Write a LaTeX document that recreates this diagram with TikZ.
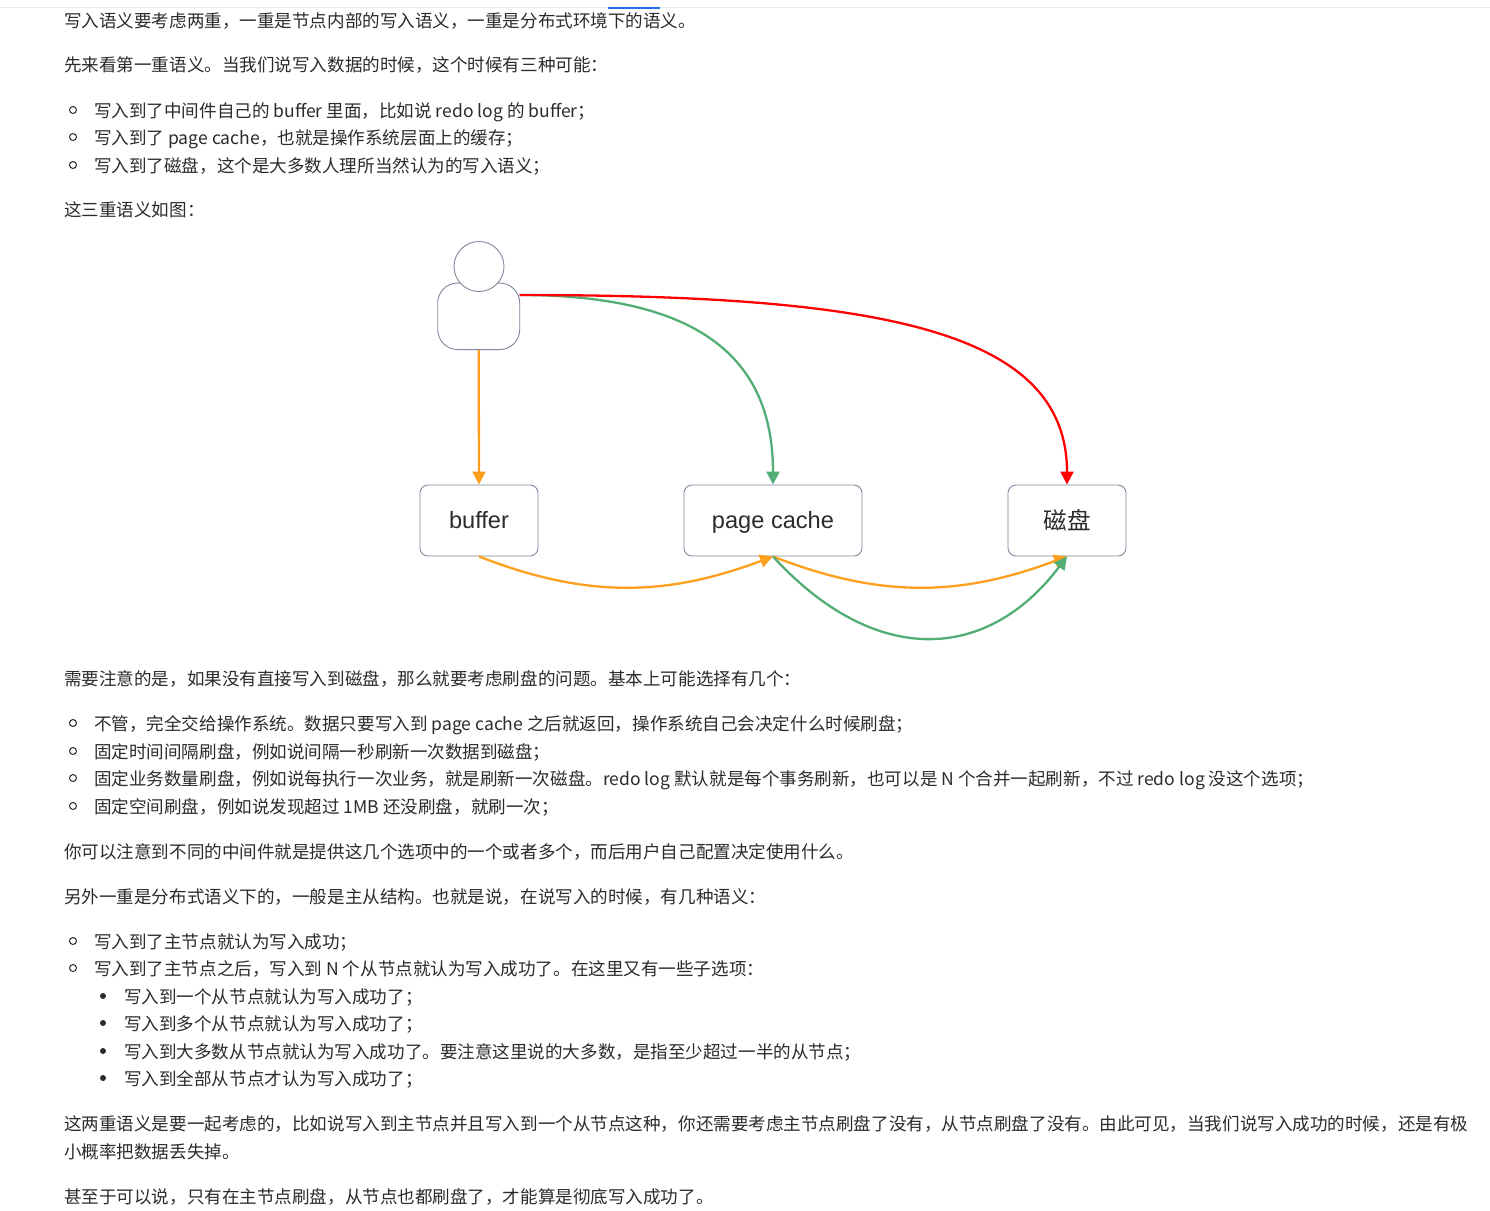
\documentclass[tikz,border=0pt]{standalone}
\usepackage{fontspec}
\setmainfont{Noto Sans CJK SC}
\newfontfamily\dgmfont{Liberation Sans}
\usetikzlibrary{arrows.meta}
\newcommand\zc{\char"FF0C\relax}
\newcommand\zf{\char"FF1B\relax}
\newcommand\zm{\char"FF1A\relax}
\definecolor{bodytxt}{HTML}{2B2B2B}
\definecolor{boxline}{HTML}{82869E}
\definecolor{arrorange}{HTML}{FF9F1E}
\definecolor{arrgreen}{HTML}{52AE75}
\definecolor{arrred}{HTML}{FF0000}
\definecolor{tabblue}{HTML}{1E6FE8}
\tikzset{
  para/.style={anchor=base west,inner sep=0pt,font=\fontsize{17.55pt}{20pt}\selectfont,text=bodytxt},
  hollowdot/.style={circle,draw=bodytxt,line width=1pt,minimum size=7pt,inner sep=0pt},
  soliddot/.style={circle,fill=bodytxt,minimum size=6pt,inner sep=0pt},
  dgmbox/.style={draw=boxline,line width=0.9pt,fill=white,rounded corners=8pt,minimum height=71pt,inner sep=0pt,text=bodytxt,text height=18pt,text depth=2pt,font=\dgmfont\fontsize{23.6pt}{26pt}\selectfont},
  conn/.style={line width=2.3pt,-{Triangle[length=13pt,width=13pt]}},
}
\begin{document}
\begin{tikzpicture}[x=1pt,y=-1pt]
\useasboundingbox[fill=white] (0,0) rectangle (1490,1210);
\draw[draw=black!8,line width=1pt] (0,7.5) -- (1490,7.5);
\fill[fill=tabblue] (608,6.5) rectangle (660,8.5);
% paragraphs
\node[para] (t1) at (64,27) {写入语义要考虑两重\zc 一重是节点内部的写入语义\zc 一重是分布式环境下的语义。};
\node[para] (t2) at (64,71) {先来看第一重语义。当我们说写入数据的时候\zc 这个时候有三种可能\zm};
\node[para] (t3) at (94,117) {写入到了中间件自己的 buffer 里面\zc 比如说 redo log 的 buffer\zf};
\node[para] (t4) at (94,144) {写入到了 page cache\zc 也就是操作系统层面上的缓存\zf};
\node[para] (t5) at (94,172) {写入到了磁盘\zc 这个是大多数人理所当然认为的写入语义\zf};
\node[para] (t6) at (64,216) {这三重语义如图\zm};
\node[para] (t7) at (64,685) {需要注意的是\zc 如果没有直接写入到磁盘\zc 那么就要考虑刷盘的问题。基本上可能选择有几个\zm};
\node[para] (t8) at (94,730) {不管\zc 完全交给操作系统。数据只要写入到 page cache 之后就返回\zc 操作系统自己会决定什么时候刷盘\zf};
\node[para] (t9) at (94,758) {固定时间间隔刷盘\zc 例如说间隔一秒刷新一次数据到磁盘\zf};
\node[para] (t10) at (94,785) {固定业务数量刷盘\zc 例如说每执行一次业务\zc 就是刷新一次磁盘。redo log 默认就是每个事务刷新\zc 也可以是 N 个合并一起刷新\zc 不过 redo log 没这个选项\zf};
\node[para] (t11) at (94,813) {固定空间刷盘\zc 例如说发现超过 1MB 还没刷盘\zc 就刷一次\zf};
\node[para] (t12) at (64,858) {你可以注意到不同的中间件就是提供这几个选项中的一个或者多个\zc 而后用户自己配置决定使用什么。};
\node[para] (t13) at (64,903) {另外一重是分布式语义下的\zc 一般是主从结构。也就是说\zc 在说写入的时候\zc 有几种语义\zm};
\node[para] (t14) at (94,948) {写入到了主节点就认为写入成功\zf};
\node[para] (t15) at (94,975) {写入到了主节点之后\zc 写入到 N 个从节点就认为写入成功了。在这里又有一些子选项\zm};
\node[para] (t16) at (124,1003) {写入到一个从节点就认为写入成功了\zf};
\node[para] (t17) at (124,1030) {写入到多个从节点就认为写入成功了\zf};
\node[para] (t18) at (124,1058) {写入到大多数从节点就认为写入成功了。要注意这里说的大多数\zc 是指至少超过一半的从节点\zf};
\node[para] (t19) at (124,1085) {写入到全部从节点才认为写入成功了\zf};
\node[para] (t20) at (64,1130) {这两重语义是要一起考虑的\zc 比如说写入到主节点并且写入到一个从节点这种\zc 你还需要考虑主节点刷盘了没有\zc 从节点刷盘了没有。由此可见\zc 当我们说写入成功的时候\zc 还是有极};
\node[para] (t21) at (64,1158) {小概率把数据丢失掉。};
\node[para] (t22) at (64,1203) {甚至于可以说\zc 只有在主节点刷盘\zc 从节点也都刷盘了\zc 才能算是彻底写入成功了。};
% bullets
\foreach \yy in {110,137,165,723,751,778,806,941,968} \node[hollowdot] at (73,\yy) {};
\foreach \yy in {996,1023,1051,1078} \node[soliddot] at (103,\yy) {};
% diagram
\node[dgmbox,rounded corners=20pt,minimum width=82pt,minimum height=66.5pt] (body) at (478.7,316.3) {};
\node[circle,draw=boxline,line width=0.9pt,fill=white,minimum size=50pt,inner sep=0pt] (head) at (479,266.5) {};
\node[dgmbox,minimum width=118pt] (buffer) at (479,520.5) {buffer};
\node[dgmbox,minimum width=178pt] (pagecache) at (773,520.5) {page cache};
\node[dgmbox,minimum width=118pt] (disk) at (1067,520.5) {\raisebox{-1pt}{\fontspec{Noto Sans CJK SC}磁盘}};
\coordinate (bodyout) at (519.5,295);
\draw[conn,arrorange] (body.south) -- (buffer.north);
\draw[conn,arrgreen] (bodyout) .. controls (695,295) and (773,355) .. (pagecache.north);
\draw[conn,arrred] (bodyout) .. controls (880,295) and (1067,330) .. (disk.north);
\draw[conn,arrorange] (buffer.south) .. controls (590,600) and (670,595) .. (pagecache.south);
\draw[conn,arrorange] (pagecache.south) .. controls (884,600) and (964,595) .. (disk.south);
\draw[conn,arrgreen] (pagecache.south) .. controls (872,665) and (985,665) .. (disk.south);
\end{tikzpicture}
\end{document}
